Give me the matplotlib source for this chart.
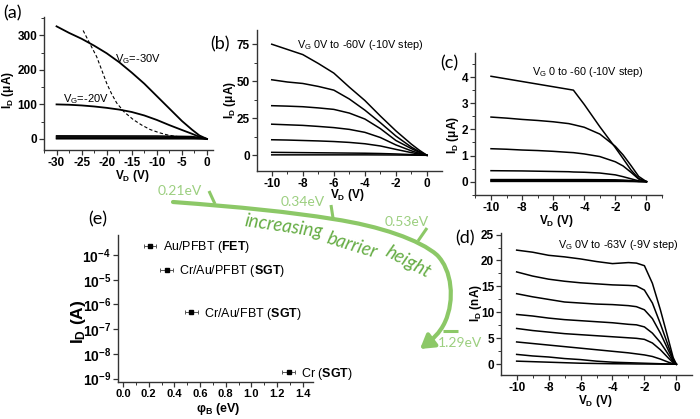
import matplotlib
matplotlib.use('Agg')
import matplotlib.pyplot as plt
from matplotlib.ticker import AutoMinorLocator, MultipleLocator, NullFormatter
from matplotlib.path import Path
from matplotlib.patches import FancyArrowPatch

# ---- data ----
# (a) VG = -30 V / -20 V, dashed boundary, small curves near zero
a_vd = [-30, -27.5, -25, -22.5, -20, -17.5, -15, -12.5, -10, -7.5, -5, -3, -1.5, 0]
a_vg30 = [326, 307, 290, 270, 248, 222, 192, 160, 124, 88, 52, 27, 10, 0]
a_vg20 = [100, 99, 97, 94, 90, 85, 78, 68, 55, 40, 26, 15, 6, 0]
a_low_vd = [-30, -10, -3, -1, 0]
a_low = [[9, 8.5, 7, 3, 0], [6, 5.5, 4.5, 2, 0], [3, 3, 2.5, 1, 0], [0.5, 0.5, 0.4, 0.2, 0]]
a_dash_vd = [-24.7, -23.5, -22, -21, -20, -19, -18, -16.5, -14.7, -13, -11.3, -9.5, -8, -6.5, -5.3]
a_dash = [314, 280, 238, 200, 161, 130, 104, 78, 56, 40, 27, 18, 12, 8, 6]
a_xticks = [-30, -25, -20, -15, -10, -5, 0]
a_yticks = [0, 100, 200, 300]

# (b) VG 0 to -60 V
b_vd = [-10, -9, -8, -7, -6, -5, -4, -3, -2, -1, -0.5, 0]
b_id = [
    [75, 71.5, 68, 62, 55.5, 46, 37, 26.5, 16.5, 7.5, 3.5, 0],
    [51, 49.5, 48.5, 46.5, 44, 38, 30.5, 22, 13, 5.5, 2.5, 0],
    [33.5, 33.2, 32.8, 32, 31, 28.5, 24.5, 18, 10, 4.5, 2, 0],
    [21, 20.6, 20.2, 19.5, 18.7, 17.5, 15.5, 12, 7, 3, 1.3, 0],
    [10.5, 10.3, 10, 9.7, 9.3, 8.7, 7.8, 6.3, 4, 1.8, 0.8, 0],
    [2.0, 1.9, 1.8, 1.7, 1.6, 1.5, 1.4, 1.2, 0.9, 0.5, 0.2, 0],
    [0.3, 0.3, 0.3, 0.3, 0.3, 0.3, 0.3, 0.25, 0.2, 0.1, 0.05, 0],
]
b_yticks = [0, 25, 50, 75]

# (c) VG 0 to -60 V
c_vd = [-10, -9, -8, -7, -6, -5, -4.7, -4, -3, -2, -1.5, -1, -0.5, 0]
c_id = [
    [4.03, 3.93, 3.83, 3.73, 3.63, 3.53, 3.5, 2.95, 2.1, 1.3, 0.88, 0.45, 0.12, 0],
    [2.47, 2.43, 2.38, 2.34, 2.29, 2.22, 2.18, 2.08, 1.82, 1.35, 1.02, 0.62, 0.2, 0],
    [1.26, 1.24, 1.21, 1.19, 1.16, 1.12, 1.11, 1.06, 0.96, 0.76, 0.6, 0.36, 0.1, 0],
    [0.42, 0.415, 0.41, 0.4, 0.39, 0.38, 0.37, 0.36, 0.33, 0.26, 0.19, 0.11, 0.03, 0],
    [0.08, 0.08, 0.08, 0.08, 0.08, 0.08, 0.08, 0.08, 0.075, 0.07, 0.06, 0.04, 0.01, 0],
    [0.04, 0.04, 0.04, 0.04, 0.04, 0.04, 0.04, 0.04, 0.04, 0.035, 0.03, 0.02, 0.01, 0],
    [0.01, 0.01, 0.01, 0.01, 0.01, 0.01, 0.01, 0.01, 0.01, 0.01, 0.01, 0.005, 0, 0],
]
c_yticks = [0, 1, 2, 3, 4]

# (d) VG 0 to -63 V (-9 V step)
d_vd = [-10, -9, -8, -7, -6, -5, -4, -3, -2.5, -2, -1.5, -1, -0.5, -0.2, 0]
d_id = [
    [22, 21.6, 21.0, 20.7, 20.3, 19.8, 19.4, 19.6, 19.5, 19.0, 15.6, 10.5, 4.8, 1.3, 0],
    [17.8, 17.0, 16.4, 16.0, 15.7, 15.5, 15.3, 15.2, 15.1, 14.3, 11.8, 7.8, 3.5, 1.0, 0],
    [13.6, 13.0, 12.5, 12.0, 11.8, 11.6, 11.5, 11.3, 11.1, 10.5, 8.8, 6.0, 2.7, 0.8, 0],
    [9.6, 9.3, 8.9, 8.6, 8.4, 8.2, 8.0, 7.7, 7.6, 7.2, 6.0, 4.2, 1.9, 0.5, 0],
    [6.9, 6.5, 6.2, 5.9, 5.7, 5.5, 5.3, 5.1, 5.0, 4.8, 4.1, 2.8, 1.2, 0.3, 0],
    [4.3, 4.0, 3.7, 3.4, 3.1, 2.8, 2.5, 2.2, 2.0, 1.8, 1.5, 1.0, 0.4, 0.1, 0],
    [1.9, 1.6, 1.4, 1.1, 0.9, 0.6, 0.4, 0.3, 0.25, 0.2, 0.15, 0.1, 0.05, 0.02, 0],
    [0.6, 0.5, 0.4, 0.3, 0.2, 0.15, 0.1, 0.08, 0.06, 0.05, 0.04, 0.03, 0.02, 0.01, 0],
]
d_yticks = [0, 5, 10, 15, 20, 25]
vd_ticks = [-10, -8, -6, -4, -2, 0]

# (e) current vs barrier height
e_phi = [0.21, 0.34, 0.53, 1.29]
e_id = [2.4e-4, 2.5e-5, 4.8e-7, 1.8e-9]
e_err = [0.05, 0.05, 0.05, 0.05]
e_names = [r'Au/PFBT ($\mathbf{FET}$)', r'Cr/Au/PFBT ($\mathbf{SGT}$)',
           r'Cr/Au/FBT ($\mathbf{SGT}$)', r'Cr ($\mathbf{SGT}$)']
e_xticks = [0.0, 0.2, 0.4, 0.6, 0.8, 1.0, 1.2, 1.4]
e_yticks = [1e-9, 1e-8, 1e-7, 1e-6, 1e-5, 1e-4]
e_ylabels = [r'$\mathbf{10^{-%d}}$' % n for n in [9, 8, 7, 6, 5, 4]]

# green arrow (figure pixel coords), bezier control points
arrow_x = [173, 240, 290, 333, 380, 420, 437, 452, 455, 445, 440, 432, 420]
arrow_y = [202, 207, 212, 219, 226, 240, 255, 270, 300, 322, 333, 340, 349]
stub_x = [(209, 215), (331, 333), (427, 418), (443, 458)]
stub_y = [(191, 204), (205, 218), (228, 241), (331, 331)]
ev_labels = ['0.21eV', '0.34eV', '0.53eV', '1.29eV']
ev_pos = [(180, 191), (303, 202), (407, 222), (460, 343)]
words = ['increasing', 'barrier', 'height']
word_pos = [(284, 226), (352, 245), (408, 262)]
word_rot = [-8.5, -17, -28]

# ---- fonts ----
plt.rcParams['font.family'] = ['Liberation Sans', 'DejaVu Sans']
plt.rcParams['mathtext.fontset'] = 'custom'
plt.rcParams['mathtext.rm'] = 'Liberation Sans'
plt.rcParams['mathtext.it'] = 'Liberation Sans:italic'
plt.rcParams['mathtext.bf'] = 'Liberation Sans:bold'

W, H = 700, 419
fig = plt.figure(figsize=(7, 4.19), dpi=100)
GREEN = '#8cc867'
GREEN_T = '#66ad45'
GREEN_L = '#9ccf80'
SOFT = ['Lato', 'DejaVu Sans']


def fx(x):
    return x / W


def fy(y):
    return 1 - y / H


def make_axes(x0, x1, ytop, ybot):
    ax = fig.add_axes([fx(x0), fy(ybot), (x1 - x0) / W, (ybot - ytop) / H])
    ax.patch.set_alpha(0)
    for s in ['top', 'right']:
        ax.spines[s].set_visible(False)
    for s in ['left', 'bottom']:
        ax.spines[s].set_linewidth(1.0)
        ax.spines[s].set_color('#333333')
    ax.tick_params(which='major', direction='out', length=3.5, width=0.9,
                   pad=1.5, color='#333333')
    ax.tick_params(which='minor', direction='out', length=2, width=0.7, color='#333333')
    ax.xaxis.set_minor_locator(AutoMinorLocator(2))
    ax.yaxis.set_minor_locator(AutoMinorLocator(2))
    return ax


def set_ticks(ax, xt, yt, size=8.5):
    ax.set_xticks(xt, labels=[str(v) for v in xt], fontweight='bold', fontsize=size)
    ax.set_yticks(yt, labels=[str(v) for v in yt], fontweight='bold', fontsize=size)


def ylab(text, x, y, size=8.5):
    fig.text(fx(x), fy(y), text, rotation=90, ha='center', va='center',
             fontsize=size, fontweight='bold')


def xlab(text, x, y, size=8.5):
    fig.text(fx(x), fy(y), text, ha='center', va='center',
             fontsize=size, fontweight='bold')


def panel(text, x, y):
    fig.text(fx(x), fy(y), text, ha='center', va='center', fontsize=13, family=SOFT)


ID_UA = r'I$_\mathbf{D}$ (μA)'
VD_V = r'V$_\mathbf{D}$ (V)'

# (a)
ax = make_axes(44, 213, 17, 150)
ax.plot(a_vd, a_vg30, color='black', lw=1.3)
ax.plot(a_vd, a_vg20, color='black', lw=1.3)
for y in a_low:
    ax.plot(a_low_vd, y, color='black', lw=1.1)
ax.plot(a_dash_vd, a_dash, color='black', lw=0.8, dashes=(3, 2))
ax.set_xlim(-32.5, 1.2)
ax.set_ylim(-32, 353)
set_ticks(ax, a_xticks, a_yticks)
fig.text(fx(115), fy(59), r'V$_\mathrm{G}$=-30V', fontsize=8, va='center')
fig.text(fx(63), fy(99), r'V$_\mathrm{G}$=-20V', fontsize=8, va='center')
ylab(ID_UA, 8, 90)
xlab(VD_V, 132, 176)
panel('(a)', 12, 13)

# (b)
ax = make_axes(257, 442, 30, 171)
for y in b_id:
    ax.plot(b_vd, y, color='black', lw=1.1)
ax.set_xlim(-10.95, 0.97)
ax.set_ylim(-10.6, 84.6)
set_ticks(ax, vd_ticks, b_yticks)
fig.text(fx(297), fy(45), r'V$_\mathrm{G}$ 0V to -60V (-10V step)', fontsize=7.8, va='center')
ylab(ID_UA, 230, 100)
xlab(VD_V, 347, 195)
panel('(b)', 220, 44)

# (c)
ax = make_axes(475, 662, 53, 195)
for y in c_id:
    ax.plot(c_vd, y, color='black', lw=1.1)
ax.set_xlim(-11.03, 1.0)
ax.set_ylim(-0.51, 4.92)
set_ticks(ax, vd_ticks, c_yticks)
fig.text(fx(532), fy(72), r'V$_\mathrm{G}$ 0 to -60 (-10V step)', fontsize=7.8, va='center')
ylab(ID_UA, 453, 135)
xlab(VD_V, 556, 221)
panel('(c)', 449, 63)

# (d)
ax = make_axes(501, 692, 233, 375)
for y in d_id:
    ax.plot(d_vd, y, color='black', lw=1.1)
ax.set_xlim(-10.98, 0.98)
ax.set_ylim(-2.07, 25.3)
set_ticks(ax, vd_ticks, d_yticks)
fig.text(fx(558), fy(245), r'V$_\mathrm{G}$ 0V to -63V (-9V step)', fontsize=7.8, va='center')
ylab(r'I$_\mathbf{D}$ (nA)', 476, 303)
xlab(VD_V, 595, 401)
panel('(d)', 465, 238)

# (e)
ax = make_axes(118, 313, 235, 382)
ax.errorbar(e_phi, e_id, xerr=e_err, fmt='s', ms=2.5, color='black',
            ecolor='#555555', elinewidth=0.7, capsize=1.5, capthick=0.7)
for p, i, name in zip(e_phi, e_id, e_names):
    ax.annotate(name, (p, i), xytext=(9, -1), textcoords='offset points',
                va='center', fontsize=9)
ax.set_yscale('log')
ax.set_xlim(-0.04, 1.48)
ax.set_ylim(10 ** -9.14, 10 ** -3.19)
ax.set_xticks(e_xticks, labels=['%.1f' % v for v in e_xticks], fontweight='bold', fontsize=8)
ax.xaxis.set_minor_locator(MultipleLocator(0.1))
ax.set_yticks(e_yticks, labels=e_ylabels, fontsize=10)
ax.yaxis.set_minor_formatter(NullFormatter())
ylab(r'I$_\mathbf{D}$ (A)', 79, 322, size=12.5)
xlab(r'φ$_\mathbf{B}$ (eV)', 218, 409, size=9)
panel('(e)', 98, 219)

# green arrow overlay in pixel coords
ov = fig.add_axes([0, 0, 1, 1], zorder=5)
ov.set_xlim(0, W)
ov.set_ylim(H, 0)
ov.axis('off')
ov.patch.set_alpha(0)
verts = list(zip(arrow_x, arrow_y))
codes = [Path.MOVETO] + [Path.CURVE4] * (len(verts) - 1)
arrow = FancyArrowPatch(path=Path(verts, codes),
                        arrowstyle='-|>,head_length=0.9,head_width=0.55',
                        mutation_scale=9, lw=3, color=GREEN,
                        shrinkA=0, shrinkB=0, transform=ov.transData)
ov.add_patch(arrow)
for xs, ys in zip(stub_x, stub_y):
    ov.plot(xs, ys, color=GREEN, lw=2.2, solid_capstyle='butt')
for lab, (x, y) in zip(ev_labels, ev_pos):
    ov.text(x, y, lab, color=GREEN_L, fontsize=10, ha='center', va='center', family=SOFT)
# curved label, one word at a time
for word, (x, y), ang in zip(words, word_pos, word_rot):
    ov.text(x, y, word, color=GREEN_T, fontsize=13.5, style='italic', rotation=ang,
            ha='center', va='center', rotation_mode='anchor', family=SOFT)

plt.savefig('out.png', dpi=100)
